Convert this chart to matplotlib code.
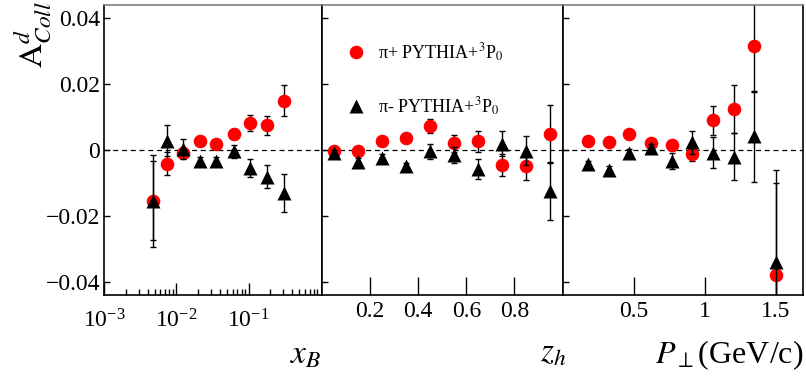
import matplotlib
matplotlib.use("Agg")
import matplotlib.pyplot as plt
from matplotlib.ticker import FixedLocator, FixedFormatter, LogLocator, NullFormatter, LogFormatterMathtext

plt.rcParams['font.family'] = ['Liberation Serif', 'DejaVu Serif']
plt.rcParams['mathtext.fontset'] = 'stix'

# ---------------- data ----------------
xb = [0.0048, 0.0074, 0.0123, 0.0213, 0.0356, 0.062, 0.106, 0.180, 0.307]
xb_pip = [-0.0154, -0.0041, -0.0010, 0.0027, 0.0018, 0.0048, 0.0082, 0.0075, 0.0150]
xb_pip_err = [0.0120, 0.0034, 0.0015, 0.0012, 0.0012, 0.0015, 0.0023, 0.0028, 0.0047]
xb_pim = [-0.0155, 0.0028, 0.0003, -0.0033, -0.0034, -0.0004, -0.0055, -0.0081, -0.0131]
xb_pim_err = [0.0140, 0.0047, 0.0030, 0.0012, 0.0012, 0.0020, 0.0028, 0.0034, 0.0057]

zh = [0.05, 0.15, 0.25, 0.35, 0.45, 0.55, 0.65, 0.75, 0.85, 0.95]
zh_pip = [-0.0002, -0.0004, 0.0028, 0.0037, 0.0074, 0.0020, 0.0026, -0.0045, -0.0050, 0.0050]
zh_pip_err = [0.0010, 0.0010, 0.0012, 0.0012, 0.0021, 0.0025, 0.0032, 0.0034, 0.0042, 0.0086]
zh_pim = [-0.0009, -0.0035, -0.0024, -0.0050, -0.0004, -0.0014, -0.0058, 0.0019, -0.0002, -0.0125]
zh_pim_err = [0.0010, 0.0010, 0.0012, 0.0012, 0.0023, 0.0024, 0.0031, 0.0038, 0.0045, 0.0087]

pt = [0.18, 0.33, 0.47, 0.62, 0.77, 0.91, 1.06, 1.21, 1.35, 1.50]
pt_pip = [0.0026, 0.0025, 0.0048, 0.0021, 0.0014, -0.0013, 0.0090, 0.0125, 0.0317, -0.0380]
pt_pip_err = [0.0010, 0.0010, 0.0012, 0.0012, 0.0015, 0.0020, 0.0045, 0.0073, 0.0140, 0.0280]
pt_pim = [-0.0042, -0.0060, -0.0009, 0.0006, -0.0033, 0.0023, -0.0008, -0.0020, 0.0041, -0.0340]
pt_pim_err = [0.0010, 0.0010, 0.0012, 0.0012, 0.0025, 0.0035, 0.0046, 0.0071, 0.0137, 0.0280]

yticks = [-0.04, -0.02, 0.0, 0.02, 0.04]
ytick_labels = ['\u22120.04', '\u22120.02', '0', '0.02', '0.04']
xb_ticks = [1e-3, 1e-2, 1e-1]
zh_ticks = [0.2, 0.4, 0.6, 0.8]
zh_tick_labels = ['0.2', '0.4', '0.6', '0.8']
pt_ticks = [0.5, 1.0, 1.5]
pt_tick_labels = ['0.5', '1', '1.5']
label_pip = 'π+ PYTHIA+$^{3}$P$_{0}$'
label_pim = 'π- PYTHIA+$^{3}$P$_{0}$'

# ---------------- figure ----------------
W, H = 806, 379
fig = plt.figure(figsize=(W / 100, H / 100), dpi=100)

def px_axes(x0, x1, ytop=5, ybot=295):
    return fig.add_axes([x0 / W, (H - ybot) / H, (x1 - x0) / W, (ybot - ytop) / H])

ax1 = px_axes(104.3, 322.0)
ax2 = px_axes(322.0, 562.5)
ax3 = px_axes(562.5, 802.7)

def draw(ax, x, yp, ep, ym, em, lab=False):
    ax.axhline(0, color='black', lw=0.9, ls=(0, (4, 3)), zorder=1)
    ax.errorbar(x, yp, yerr=ep, fmt='none', ecolor='black', elinewidth=1.0,
                capsize=2.0, capthick=1.0, zorder=2)
    ax.plot(x, yp, 'o', color='#ff0000', ms=9.8, mec='none', zorder=3,
            label=label_pip if lab else None)
    ax.errorbar(x, ym, yerr=em, fmt='none', ecolor='black', elinewidth=1.0,
                capsize=2.0, capthick=1.0, zorder=4)
    ax.plot(x, ym, '^', color='black', ms=9.5, mec='none', zorder=5,
            label=label_pim if lab else None)

draw(ax1, xb, xb_pip, xb_pip_err, xb_pim, xb_pim_err)
draw(ax2, zh, zh_pip, zh_pip_err, zh_pim, zh_pim_err, lab=True)
draw(ax3, pt, pt_pip, pt_pip_err, pt_pim, pt_pim_err)

for ax in (ax1, ax2, ax3):
    ax.set_ylim(-0.044, 0.044)
    ax.yaxis.set_major_locator(FixedLocator(yticks))
    ax.tick_params(axis='y', which='both', direction='in', length=4.5, width=1.0,
                   left=True, right=False, labelsize=17, pad=3)
    ax.tick_params(axis='x', which='both', direction='in', top=False, width=1.0)
    for s in ax.spines.values():
        s.set_linewidth(1.2)
        s.set_color('black')
    ax.spines['top'].set_color('0.5')

ax1.yaxis.set_major_formatter(FixedFormatter(ytick_labels))
ax2.set_yticklabels([])
ax3.set_yticklabels([])

ax1.set_xscale('log')
ax1.set_xlim(1e-3, 1.04)
ax1.xaxis.set_major_locator(FixedLocator(xb_ticks))
ax1.xaxis.set_major_formatter(LogFormatterMathtext())
ax1.xaxis.set_minor_locator(LogLocator(base=10, subs=range(2, 10), numticks=20))
ax1.xaxis.set_minor_formatter(NullFormatter())
ax1.tick_params(axis='x', which='major', length=9, labelsize=17, pad=10)
ax1.tick_params(axis='x', which='minor', length=4.5)

ax2.set_xlim(0, 1.0)
ax2.xaxis.set_major_locator(FixedLocator(zh_ticks))
ax2.xaxis.set_major_formatter(FixedFormatter(zh_tick_labels))
ax2.tick_params(axis='x', which='major', length=13, labelsize=17, pad=4)

ax3.set_xlim(0, 1.69)
ax3.xaxis.set_major_locator(FixedLocator(pt_ticks))
ax3.xaxis.set_major_formatter(FixedFormatter(pt_tick_labels))
ax3.tick_params(axis='x', which='major', length=13, labelsize=17, pad=4)

ax2.legend(loc='upper left', bbox_to_anchor=(0.105, 0.875), frameon=False,
           fontsize=13, borderpad=0, handlelength=1.0, handletextpad=0.7,
           labelspacing=1.75, borderaxespad=0)

# axis labels
fig.text(321 / W, (H - 363) / H, r'$x_B$', ha='right', va='baseline', fontsize=24)
fig.text(566 / W, (H - 361) / H, r'$z_h$', ha='right', va='baseline', fontsize=24)
fig.text(803 / W, (H - 363) / H, r'$P_{\perp}$(GeV/c)', ha='right', va='baseline', fontsize=23)
fig.text(33 / W, (H - 1) / H, r'$\mathrm{A}^{d}_{Coll}$', ha='center', va='top',
         rotation=90, fontsize=24)

fig.savefig('out.png', dpi=100)
